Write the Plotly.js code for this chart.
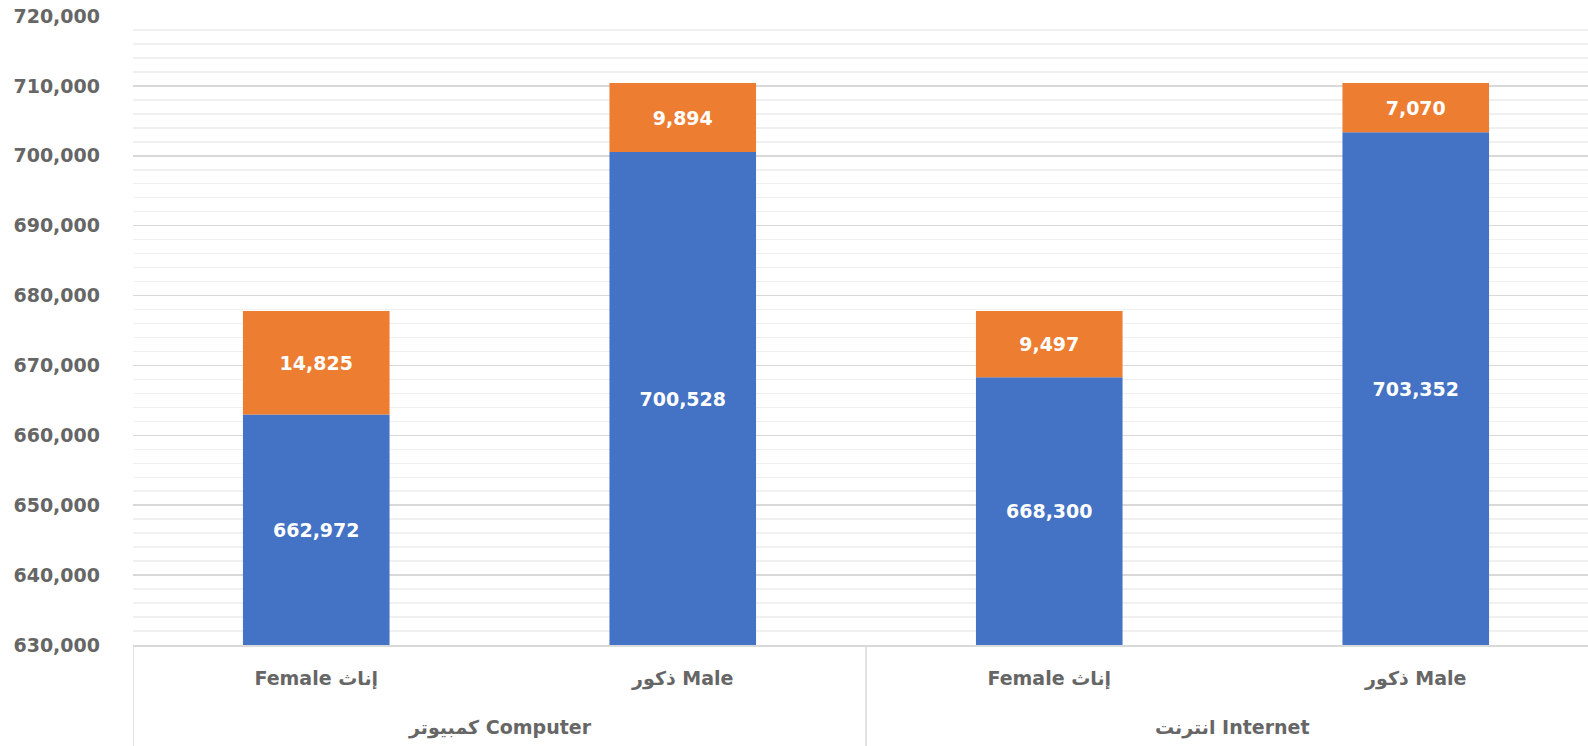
<!DOCTYPE html>
<html>
<head>
<meta charset="utf-8">
<script src="https://cdn.plot.ly/plotly-3.0.1.min.js"></script>
<style>
  html, body { margin: 0; padding: 0; background: #ffffff; }
  #chart { width: 1588px; height: 746px; }
</style>
</head>
<body>
<div id="chart"></div>
<script>
// Category levels
const groups = ['كمبيوتر Computer', 'كمبيوتر Computer', 'انترنت Internet', 'انترنت Internet'];
const genders = ['Female إناث', 'ذكور Male', 'Female إناث', 'ذكور Male'];

// Series values
const blueValues = [662972, 700528, 668300, 703352];
const orangeValues = [14825, 9894, 9497, 7070];

// Y axis range and tick values
const yFloor = 630000;
const yCeil = 720000;
const yTicks = [630000, 640000, 650000, 660000, 670000, 680000, 690000, 700000, 710000, 720000];

const fam = 'DejaVu Sans, Open Sans, sans-serif';
const labelFont = { family: fam, size: 19, color: '#ffffff', weight: 'bold' };
const axisFont = { family: fam, size: 19, color: '#666666', weight: 'bold' };

// unique keys per bar (group + sub-category), shown with the sub-category text
const keys = groups.map((g, i) => g + ' | ' + genders[i]);

// group spans (index positions on the category axis)
const groupNames = [...new Set(groups)];
const groupSpans = groupNames.map(g => {
  const idx = groups.map((v, i) => v === g ? i : -1).filter(i => i >= 0);
  return { name: g, first: Math.min(...idx), last: Math.max(...idx) };
});

const M = { l: 133, r: 0, t: 16, b: 101 };
const H = 746;
const plotH = H - M.t - M.b;

const traces = [
  {
    type: 'bar',
    x: keys,
    base: yFloor,
    y: blueValues.map(v => v - yFloor),
    customdata: blueValues,
    marker: { color: '#4472C4' },
    texttemplate: '<b>%{customdata:,}</b>',
    textposition: 'inside',
    insidetextanchor: 'middle',
    textangle: 0,
    textfont: labelFont,
    hoverinfo: 'skip',
    showlegend: false
  },
  {
    type: 'bar',
    x: keys,
    base: blueValues,
    y: orangeValues,
    marker: { color: '#ED7D31' },
    texttemplate: '<b>%{y:,}</b>',
    textposition: 'inside',
    insidetextanchor: 'middle',
    textangle: 0,
    textfont: labelFont,
    hoverinfo: 'skip',
    showlegend: false
  }
];

const dividerPositions = [];
groupSpans.forEach(s => { dividerPositions.push(s.first - 0.5); });
dividerPositions.push(groupSpans[groupSpans.length - 1].last + 0.5);

const shapes = dividerPositions.map(p => ({
  type: 'line', xref: 'x', yref: 'paper',
  x0: p, x1: p, y0: 0, y1: -M.b / plotH,
  line: { color: '#d9d9d9', width: 1.5 }
}));

const annotations = groupSpans.map(s => ({
  xref: 'x', yref: 'paper',
  x: (s.first + s.last) / 2,
  y: -(727 - (H - M.b)) / plotH,
  yanchor: 'middle', xanchor: 'center',
  text: '<b>' + s.name + '</b>',
  showarrow: false,
  font: axisFont
}));

const layout = {
  width: 1588,
  height: H,
  margin: M,
  paper_bgcolor: '#ffffff',
  plot_bgcolor: '#ffffff',
  barmode: 'overlay',
  bargap: 0.6,
  font: { family: fam, color: '#666666' },
  shapes: shapes,
  annotations: annotations,
  xaxis: {
    type: 'category',
    // the original chart's plot area runs slightly past the right edge of the picture
    range: [-0.5, keys.length - 0.53],
    tickvals: keys,
    ticktext: genders,
    showgrid: false,
    showline: true,
    linecolor: '#d9d9d9',
    linewidth: 1.5,
    ticks: '',
    ticklabelstandoff: 16,
    tickfont: axisFont,
    fixedrange: true
  },
  yaxis: {
    range: [yFloor, yCeil],
    tickvals: yTicks,
    tickformat: ',d',
    showgrid: true,
    gridcolor: '#d9d9d9',
    gridwidth: 1.5,
    zeroline: false,
    showline: false,
    ticks: '',
    ticklabelstandoff: 32,
    tickfont: axisFont,
    minor: { dtick: 2000, tick0: yFloor, showgrid: true, gridcolor: '#f0f0f0', gridwidth: 1.5 },
    fixedrange: true
  }
};

Plotly.newPlot('chart', traces, layout, { displayModeBar: false, staticPlot: true });
</script>
</body>
</html>
